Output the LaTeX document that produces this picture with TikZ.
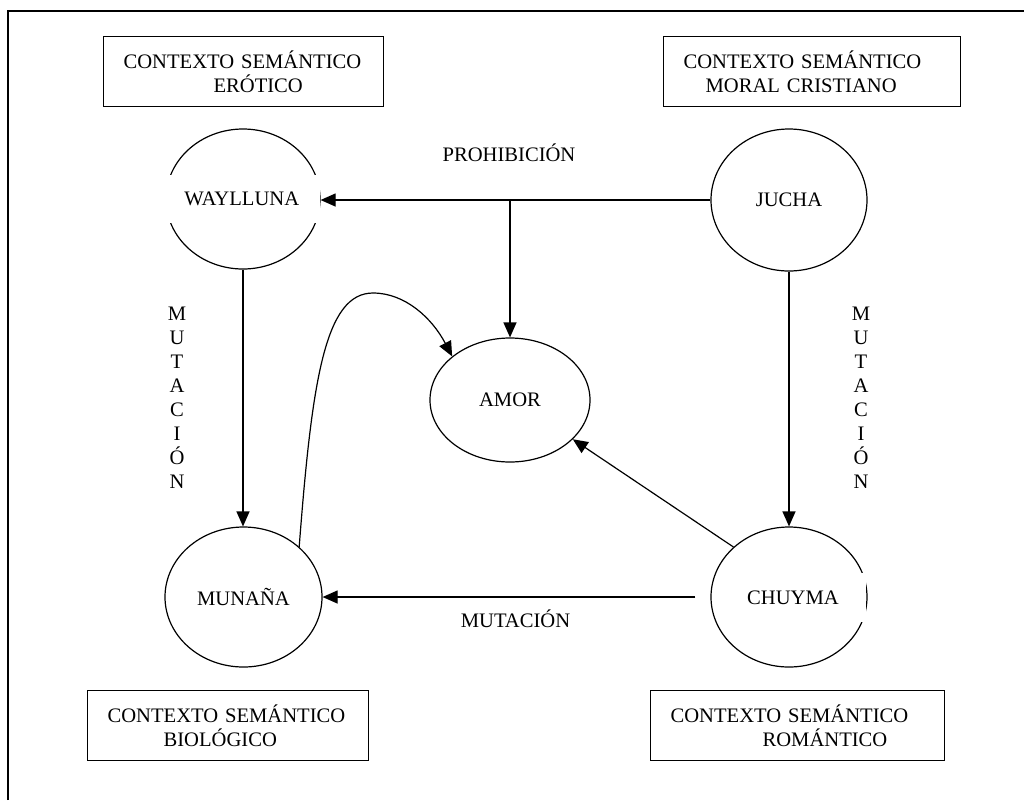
\documentclass[tikz,border=0pt]{standalone}
\usepackage{fontspec}
\setmainfont{Liberation Serif}
\usetikzlibrary{arrows.meta,shapes.geometric}
\begin{document}
\begin{tikzpicture}[x=0.5pt,y=-0.5pt,line width=0.6pt,>={Triangle[length=7.5pt,width=6.5pt]},
 every node/.style={font=\fontsize{10.3}{12}\selectfont},
 ctx/.style={draw,anchor=north west,align=left,inner xsep=10pt,inner ysep=0pt,minimum height=35pt},
 blob/.style={draw,ellipse,inner sep=0pt},
 cover/.style={fill=white,inner sep=0pt}]
 \useasboundingbox (0,0) rectangle (1024,800);
 \draw (8,800) -- (8,11) -- (1024,11);
 % contextos
 \node[ctx,text width=120pt] (erotico) at (103,36) {CONTEXTO SEMÁNTICO\\\hspace*{45pt}ERÓTICO};
 \node[ctx,text width=128.5pt] (moral) at (663,36) {CONTEXTO SEMÁNTICO\\\hspace*{11pt}MORAL CRISTIANO};
 \node[ctx,text width=120.5pt] (biologico) at (87,690) {CONTEXTO SEMÁNTICO\\\hspace*{28pt}BIOLÓGICO};
 \node[ctx,text width=127pt] (romantico) at (650,690) {CONTEXTO SEMÁNTICO\\\hspace*{46pt}ROMÁNTICO};
 % palabras
 \node[blob,minimum width=77pt,minimum height=70pt] (waylluna) at (243,199) {};
 \node[cover,minimum width=77.75pt,minimum height=24pt] (wlabel) at (241.75,199) {WAYLLUNA};
 \node[blob,minimum width=78pt,minimum height=71pt] (jucha) at (789,200) {JUCHA};
 \node[blob,minimum width=78.5pt,minimum height=70pt] (munana) at (243.5,597) {MUNAÑA};
 \node[blob,minimum width=78pt,minimum height=70pt] (chuyma) at (789,597) {};
 \node[cover,minimum width=73pt,minimum height=24.5pt] (clabel) at (793,597.5) {CHUYMA};
 \node[blob,minimum width=80pt,minimum height=62pt] (amor) at (510,400) {AMOR};
 % flechas
 \draw[->] (jucha.west) -- (jucha.west -| waylluna.east);
 \draw[->] (amor.north |- jucha.west) -- (amor.north);
 \draw[->] (waylluna.south) -- (waylluna.south |- munana.north);
 \draw[->] (jucha.south) -- (chuyma.north);
 \draw[->,shorten <=7.5pt] (chuyma.west) -- (munana.east);
 \draw[->] (chuyma.138) -- (amor.-32);
 \draw[->] (munana.42) .. controls (312,380) and (325,293) .. (373,293)
  .. controls (405,293) and (432,318) .. (amor.143);
 % rotulos
 \node (prohibicion) at (509,153) {PROHIBICIÓN};
 \node (mutabajo) at (515.5,619) {MUTACIÓN};
 \node[align=center] (mutizq) at (177,398) {M\\U\\T\\A\\C\\I\\Ó\\N};
 \node[align=center] (mutder) at (861,398) {M\\U\\T\\A\\C\\I\\Ó\\N};
\end{tikzpicture}
\end{document}
